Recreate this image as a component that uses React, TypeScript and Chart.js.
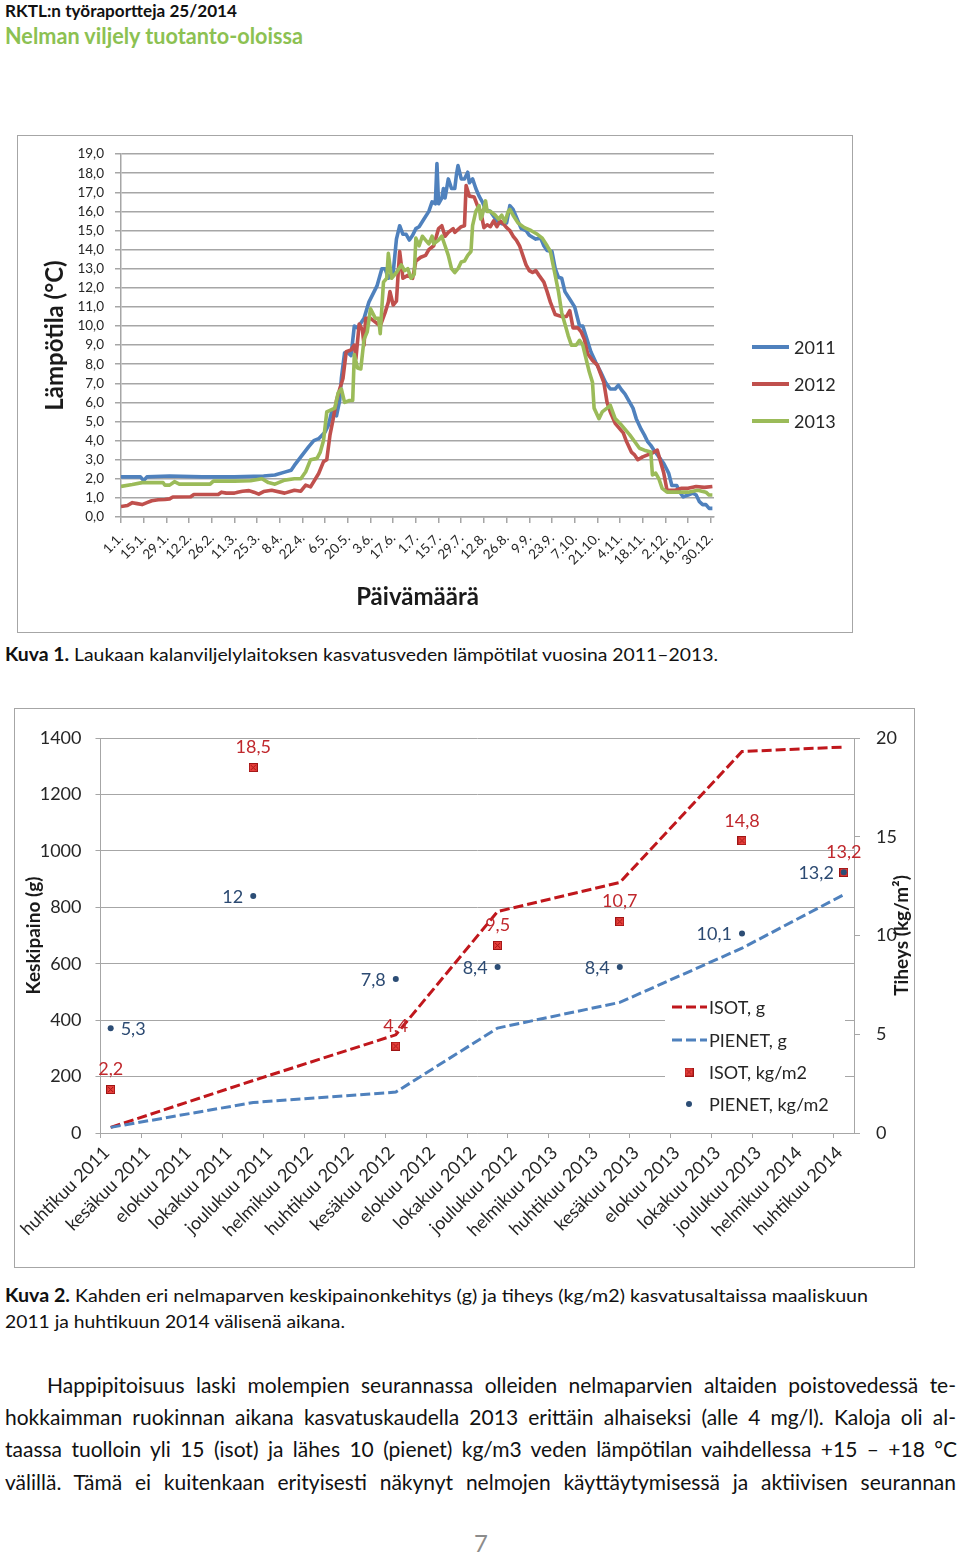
import React, { useEffect, useLayoutEffect, useRef } from 'react';
import { Chart, registerables } from 'chart.js';

Chart.register(...registerables);

const FONT = "Lato, 'Noto Sans', 'DejaVu Sans', sans-serif";

// ---------------- Chart 1: water temperature ----------------
const tickDays = [0, 14, 28, 42, 56, 70, 84, 98, 112, 126, 140, 154, 168, 182, 196, 210, 224, 238, 252, 266, 280, 294, 308, 322, 336, 350, 364];
const dateLabels = ['1.1.', '15.1.', '29.1.', '12.2.', '26.2.', '11.3.', '25.3.', '8.4.', '22.4.', '6.5.', '20.5.', '3.6.', '17.6.', '1.7.', '15.7.', '29.7.', '12.8.', '26.8.', '9.9.', '23.9.', '7.10.', '21.10.', '4.11.', '18.11.', '2.12.', '16.12.', '30.12.'];
const yearNames = ['2011', '2012', '2013'];

const days2011 = [0, 12, 14, 16, 30, 50, 70, 88, 95, 101, 105, 107, 111, 116, 119, 122, 126, 128, 130, 133, 135, 136, 138, 140, 142, 144, 146, 150, 153, 158, 161, 163, 165, 168, 170, 172, 174, 176, 178, 180, 182, 184, 187, 190, 192, 194, 195, 196, 198, 199, 200, 202, 204, 206, 207, 208, 210, 212, 214, 215, 217, 219, 221, 223, 225, 228, 232, 235, 238, 240, 242, 245, 247, 250, 252, 254, 256, 259, 261, 263, 266, 268, 270, 272, 274, 277, 280, 283, 285, 288, 290, 293, 296, 299, 302, 305, 307, 309, 311, 314, 316, 318, 321, 323, 325, 327, 329, 332, 335, 338, 340, 343, 345, 347, 350, 353, 355, 357, 359, 361, 363, 365];
const temps2011 = [2.1, 2.1, 1.9, 2.1, 2.15, 2.1, 2.1, 2.15, 2.2, 2.35, 2.45, 2.7, 3.15, 3.7, 4.0, 4.1, 4.45, 4.8, 5.5, 5.3, 6.1, 7.25, 8.6, 8.6, 8.45, 10.0, 9.9, 10.4, 11.25, 12.1, 13.0, 13.0, 12.5, 12.8, 14.55, 15.25, 14.8, 14.8, 14.5, 14.75, 15.1, 15.2, 15.6, 16.0, 16.5, 16.4, 18.5, 16.4, 16.7, 17.2, 16.7, 17.7, 17.2, 17.2, 17.9, 18.4, 17.7, 17.7, 18.05, 17.5, 17.7, 17.2, 16.8, 16.5, 16.1, 16.0, 15.5, 15.35, 15.4, 16.3, 16.1, 15.5, 15.1, 15.0, 14.75, 14.65, 14.55, 14.6, 14.2, 13.95, 13.9, 13.0, 12.55, 12.5, 11.8, 11.4, 11.0, 10.0, 10.0, 9.2, 8.65, 8.1, 7.6, 7.05, 6.7, 6.7, 6.9, 6.65, 6.45, 6.0, 5.7, 5.15, 4.6, 4.3, 3.95, 3.75, 3.5, 3.15, 2.8, 2.3, 1.65, 1.65, 1.3, 1.05, 1.15, 1.25, 1.15, 0.8, 0.65, 0.65, 0.45, 0.45];

const days2012 = [0, 4, 7, 10, 13, 16, 19, 23, 27, 30, 32, 43, 45, 60, 62, 65, 70, 72, 75, 79, 82, 85, 88, 93, 101, 107, 111, 114, 117, 122, 125, 127, 129, 131, 133, 135, 137, 139, 142, 144, 145, 147, 149, 150, 151, 154, 157, 160, 163, 165, 166, 168, 170, 171, 172, 174, 177, 180, 182, 185, 188, 190, 193, 196, 198, 200, 202, 205, 206, 210, 212, 213, 215, 218, 220, 222, 224, 226, 228, 230, 232, 234, 236, 238, 240, 242, 244, 246, 248, 250, 252, 254, 256, 258, 261, 263, 265, 268, 270, 272, 275, 277, 279, 282, 284, 286, 288, 291, 294, 296, 298, 300, 302, 305, 308, 310, 312, 315, 317, 319, 322, 325, 328, 331, 333, 335, 337, 342, 346, 350, 355, 360, 365];
const temps2012 = [0.55, 0.6, 0.75, 0.7, 0.65, 0.75, 0.85, 0.9, 0.92, 0.95, 1.05, 1.06, 1.18, 1.18, 1.3, 1.25, 1.25, 1.3, 1.35, 1.38, 1.3, 1.2, 1.33, 1.4, 1.25, 1.4, 1.35, 1.67, 1.58, 2.28, 2.9, 3.0, 4.3, 5.15, 6.1, 6.7, 7.25, 8.65, 8.75, 9.0, 8.3, 10.1, 9.8, 9.0, 10.4, 10.4, 10.2, 10.0, 10.7, 11.25, 11.8, 11.1, 11.3, 12.65, 13.9, 12.5, 12.65, 12.5, 13.4, 13.6, 13.7, 14.0, 14.2, 15.1, 15.25, 14.7, 14.9, 15.1, 14.9, 15.2, 15.25, 17.35, 16.8, 16.75, 16.3, 16.0, 15.15, 15.3, 15.2, 15.5, 15.2, 15.5, 15.35, 15.15, 15.0, 14.7, 14.5, 14.2, 13.7, 13.2, 12.9, 12.8, 12.9, 12.65, 12.3, 11.8, 11.25, 10.6, 10.55, 10.5, 10.5, 10.8, 9.9, 9.9, 9.7, 9.3, 8.55, 8.2, 7.95, 7.5, 7.05, 6.0, 5.5, 4.9, 4.6, 4.4, 3.95, 3.4, 3.25, 3.0, 3.15, 3.25, 3.35, 3.5, 2.9, 2.3, 1.4, 1.4, 1.5, 1.5, 1.6, 1.55, 1.6];

const days2013 = [0, 7, 13, 26, 27, 30, 33, 36, 55, 57, 70, 80, 87, 91, 95, 101, 107, 111, 114, 117, 121, 123, 125, 127, 132, 134, 136, 138, 141, 143, 144, 146, 148, 150, 152, 154, 157, 159, 160, 162, 164, 165, 167, 170, 173, 175, 177, 179, 181, 182, 184, 186, 188, 190, 192, 193, 196, 198, 200, 202, 204, 206, 208, 210, 212, 214, 216, 217, 219, 221, 222, 223, 225, 226, 228, 231, 233, 235, 237, 239, 240, 242, 245, 249, 253, 257, 260, 263, 265, 268, 270, 272, 274, 276, 278, 281, 283, 285, 287, 289, 291, 292, 295, 297, 300, 302, 305, 308, 311, 314, 317, 320, 323, 327, 328, 330, 332, 334, 337, 344, 350, 356, 361, 363, 365];
const temps2013 = [1.6, 1.7, 1.8, 1.8, 1.67, 1.67, 1.85, 1.72, 1.72, 1.88, 1.88, 1.9, 2.0, 1.8, 1.72, 1.93, 2.0, 2.0, 2.37, 3.0, 3.07, 3.4, 4.0, 5.5, 5.7, 6.5, 6.7, 6.0, 6.1, 6.1, 8.5, 7.8, 7.75, 9.3, 9.7, 10.9, 10.4, 10.4, 9.6, 12.3, 12.5, 13.8, 12.5, 12.8, 13.2, 12.9, 13.0, 12.5, 12.7, 14.6, 14.2, 14.7, 14.5, 14.3, 14.7, 14.3, 14.5, 14.7, 14.2, 13.7, 13.0, 12.8, 13.0, 13.35, 13.4, 13.7, 13.9, 15.25, 16.0, 16.3, 15.6, 15.8, 16.55, 16.0, 16.0, 15.8, 15.6, 15.8, 15.45, 16.0, 16.1, 15.8, 15.4, 15.15, 15.0, 14.8, 14.6, 14.2, 13.9, 12.65, 11.8, 10.7, 10.1, 9.5, 9.0, 9.0, 9.25, 9.0, 8.3, 7.6, 7.05, 5.7, 5.15, 5.5, 5.7, 5.85, 5.15, 4.9, 4.6, 4.3, 3.95, 3.6, 3.5, 3.4, 2.2, 2.3, 2.0, 1.5, 1.3, 1.3, 1.3, 1.4, 1.3, 1.15, 1.15];

const yearColors = ['#4F81BD', '#C0504D', '#9BBB59'];

// ---------------- Chart 2: weight and density ----------------
const monthTicks = [0, 2, 4, 6, 8, 10, 12, 14, 16, 18, 20, 22, 24, 26, 28, 30, 32, 34, 36];
const monthLabels = ['huhtikuu 2011', 'kesäkuu 2011', 'elokuu 2011', 'lokakuu 2011', 'joulukuu 2011', 'helmikuu 2012', 'huhtikuu 2012', 'kesäkuu 2012', 'elokuu 2012', 'lokakuu 2012', 'joulukuu 2012', 'helmikuu 2013', 'huhtikuu 2013', 'kesäkuu 2013', 'elokuu 2013', 'lokakuu 2013', 'joulukuu 2013', 'helmikuu 2014', 'huhtikuu 2014'];
const sampleMonths = [0.5, 7.5, 14.5, 19.5, 25.5, 31.5, 36.5];
const isotWeight = [20, 186, 348, 785, 888, 1352, 1368];
const pienetWeight = [20, 108, 145, 372, 463, 655, 845];
const isotDensity = [2.2, 18.5, 4.4, 9.5, 10.7, 14.8, 13.2];
const pienetDensity = [5.3, 12, 7.8, 8.4, 8.4, 10.1, 13.2];
const series2Names = ['ISOT, g', 'PIENET, g', 'ISOT, kg/m2', 'PIENET, kg/m2'];
const pienetLabelSide = ['right', 'left', 'left', 'left', 'left', 'left', 'left'];

const RED_LINE = '#C0171C';
const BLUE_LINE = '#4F81BD';
const RED_TEXT = '#C0282D';
const BLUE_TEXT = '#2C4A72';
const GRID = '#A6A6A6';
const TXT = '#262626';

const fmt = (v: number) => String(v).replace('.', ',');
const pts = (xs: number[], ys: number[]) => xs.map((x, i) => ({ x, y: ys[i] }));

function makeSquareMarker(): HTMLCanvasElement {
  const c = document.createElement('canvas');
  c.width = 9;
  c.height = 9;
  const g = c.getContext('2d')!;
  g.fillStyle = '#E8403C';
  g.fillRect(0, 0, 9, 9);
  g.strokeStyle = '#9E1414';
  g.lineWidth = 1;
  g.strokeRect(0.5, 0.5, 8, 8);
  g.beginPath();
  g.moveTo(2, 2);
  g.lineTo(7, 7);
  g.moveTo(7, 2);
  g.lineTo(2, 7);
  g.stroke();
  return c;
}

function FitLine(props: any) {
  const { left, cy, width, size, color = '#000', weight = 'normal', justify = false, children } = props;
  const ref = useRef<HTMLDivElement>(null);
  useLayoutEffect(() => {
    const el = ref.current;
    if (!el) return;
    el.style.transform = 'none';
    el.style.wordSpacing = '0px';
    const w = el.getBoundingClientRect().width;
    if (w <= 0) return;
    const text = el.textContent || '';
    const spaces = (text.match(/ /g) || []).length;
    if (justify && w < width && spaces > 0) {
      el.style.wordSpacing = `${(width - w) / spaces}px`;
    } else {
      el.style.transform = `scaleX(${width / w})`;
    }
  });
  const lh = Math.round(size * 1.25);
  return (
    <div
      ref={ref}
      style={{
        position: 'absolute',
        left,
        top: cy - lh / 2,
        fontSize: size,
        lineHeight: `${lh}px`,
        whiteSpace: 'nowrap',
        transformOrigin: '0 50%',
        color,
        fontFamily: FONT,
        fontWeight: weight,
      }}
    >
      {children}
    </div>
  );
}

export default function App() {
  const c1 = useRef<HTMLCanvasElement>(null);
  const c2 = useRef<HTMLCanvasElement>(null);

  useEffect(() => {
    Chart.defaults.font.family = FONT;
    Chart.defaults.color = TXT;

    const legend1 = {
      id: 'legend1',
      afterDraw(chart: any) {
        const ctx = chart.ctx;
        ctx.save();
        yearNames.forEach((name, i) => {
          const y = 212 + i * 37;
          ctx.strokeStyle = yearColors[i];
          ctx.lineWidth = 4;
          ctx.beginPath();
          ctx.moveTo(735, y);
          ctx.lineTo(772, y);
          ctx.stroke();
          ctx.fillStyle = TXT;
          ctx.font = `18px ${FONT}`;
          ctx.textAlign = 'left';
          ctx.textBaseline = 'middle';
          ctx.fillText(name, 777, y + 1);
        });
        ctx.restore();
      },
    };

    const chart1 = new Chart(c1.current!, {
      type: 'line',
      data: {
        datasets: [
          { label: yearNames[0], data: pts(days2011, temps2011), borderColor: yearColors[0], order: 3 },
          { label: yearNames[1], data: pts(days2012, temps2012), borderColor: yearColors[1], order: 2 },
          { label: yearNames[2], data: pts(days2013, temps2013), borderColor: yearColors[2], order: 1 },
        ],
      },
      options: {
        animation: false,
        responsive: false,
        maintainAspectRatio: false,
        layout: { padding: { top: 18, right: 139, left: 0, bottom: 0 } },
        elements: { point: { radius: 0 }, line: { borderWidth: 3.6, tension: 0, borderJoinStyle: 'round' } },
        plugins: { legend: { display: false }, tooltip: { enabled: false } },
        scales: {
          x: {
            type: 'linear',
            min: 0,
            max: 366,
            afterFit: (s: any) => { s.height = 116; },
            afterBuildTicks: (s: any) => { s.ticks = tickDays.map((v) => ({ value: v })); },
            grid: { drawOnChartArea: false, drawTicks: true, tickLength: 6, color: GRID, lineWidth: 1.5 },
            border: { color: GRID, width: 1.5 },
            ticks: {
              autoSkip: false,
              minRotation: 45,
              maxRotation: 45,
              padding: 7,
              color: TXT,
              font: { size: 13.5 },
              callback: (v: any) => dateLabels[tickDays.indexOf(Number(v))] ?? '',
            },
            title: { display: true, text: 'Päivämäärä', color: '#1A1A1A', font: { size: 24, weight: 'bold' }, padding: { top: 0, bottom: 21 } },
          },
          y: {
            min: 0,
            max: 19,
            afterFit: (s: any) => { s.width = 104; },
            grid: { color: GRID, lineWidth: 1.5, tickLength: 6 },
            border: { color: GRID, width: 1.5 },
            ticks: { stepSize: 1, autoSkip: false, padding: 11, color: TXT, font: { size: 13.5 }, callback: (v: any) => Number(v).toFixed(1).replace('.', ',') },
            title: { display: true, text: 'Lämpötila (°C)', color: '#1A1A1A', font: { size: 24, weight: 'bold' }, padding: { top: 24, bottom: 0 } },
          },
        },
      } as any,
      plugins: [legend1],
    });

    const marker = makeSquareMarker();

    const extras2 = {
      id: 'extras2',
      beforeDatasetsDraw(chart: any) {
        const ctx = chart.ctx;
        ctx.save();
        ctx.fillStyle = '#FFFFFF';
        ctx.fillRect(651, 283, 180, 129);
        const ys = [299, 332, 364, 396];
        ctx.font = `18px ${FONT}`;
        ctx.textBaseline = 'middle';
        ctx.textAlign = 'left';
        [RED_LINE, BLUE_LINE].forEach((col, i) => {
          ctx.strokeStyle = col;
          ctx.lineWidth = 3;
          ctx.setLineDash([10, 4]);
          ctx.beginPath();
          ctx.moveTo(658, ys[i]);
          ctx.lineTo(693, ys[i]);
          ctx.stroke();
        });
        ctx.setLineDash([]);
        ctx.drawImage(marker, 675 - 4.5, ys[2] - 4.5);
        ctx.fillStyle = '#2C4D75';
        ctx.beginPath();
        ctx.arc(675, ys[3], 3, 0, Math.PI * 2);
        ctx.fill();
        ctx.fillStyle = TXT;
        series2Names.forEach((n, i) => ctx.fillText(n, 695, ys[i] + 1));
        ctx.restore();
      },
      afterDatasetsDraw(chart: any) {
        const ctx = chart.ctx;
        ctx.save();
        ctx.font = `18px ${FONT}`;
        ctx.textBaseline = 'middle';
        const mI = chart.getDatasetMeta(2);
        const mP = chart.getDatasetMeta(3);
        isotDensity.forEach((v, i) => {
          const p = mI.data[i];
          ctx.fillStyle = RED_TEXT;
          ctx.textAlign = 'center';
          ctx.fillText(fmt(v), p.x, p.y - 20);
        });
        pienetDensity.forEach((v, i) => {
          const p = mP.data[i];
          ctx.fillStyle = BLUE_TEXT;
          const right = pienetLabelSide[i] === 'right';
          ctx.textAlign = right ? 'left' : 'right';
          ctx.fillText(fmt(v), right ? p.x + 10 : p.x - 10, p.y + 1);
        });
        ctx.restore();
      },
      afterDraw(chart: any) {
        const ctx = chart.ctx;
        const ca = chart.chartArea;
        ctx.save();
        ctx.translate(888, (ca.top + ca.bottom) / 2);
        ctx.rotate(-Math.PI / 2);
        ctx.font = `bold 19px ${FONT}`;
        ctx.fillStyle = '#1A1A1A';
        ctx.textAlign = 'center';
        ctx.textBaseline = 'middle';
        ctx.fillText('Tiheys (kg/m²)', 0, 0);
        ctx.restore();
      },
    };

    const chart2 = new Chart(c2.current!, {
      type: 'line',
      data: {
        datasets: [
          { label: series2Names[0], data: pts(sampleMonths, isotWeight), yAxisID: 'y', borderColor: RED_LINE, borderDash: [10, 4], borderWidth: 3, pointRadius: 0, order: 4 },
          { label: series2Names[1], data: pts(sampleMonths, pienetWeight), yAxisID: 'y', borderColor: BLUE_LINE, borderDash: [10, 4], borderWidth: 3, pointRadius: 0, order: 3 },
          { label: series2Names[2], data: pts(sampleMonths, isotDensity), yAxisID: 'y1', showLine: false, pointStyle: marker, pointRadius: 5, order: 2 },
          { label: series2Names[3], data: pts(sampleMonths, pienetDensity), yAxisID: 'y1', showLine: false, pointStyle: 'circle', pointRadius: 3, pointBackgroundColor: '#2C4D75', pointBorderColor: '#2C4D75', pointBorderWidth: 0, order: 1 },
        ],
      },
      options: {
        animation: false,
        responsive: false,
        maintainAspectRatio: false,
        layout: { padding: { top: 30, right: 0, left: 0, bottom: 0 } },
        elements: { line: { tension: 0 } },
        plugins: { legend: { display: false }, tooltip: { enabled: false } },
        scales: {
          x: {
            type: 'linear',
            min: 0,
            max: 37,
            afterFit: (s: any) => { s.height = 135; },
            afterBuildTicks: (s: any) => { s.ticks = monthTicks.map((v) => ({ value: v })); },
            grid: { drawOnChartArea: false, drawTicks: true, tickLength: 5, color: GRID, lineWidth: 1 },
            border: { color: GRID, width: 1 },
            ticks: {
              autoSkip: false,
              minRotation: 45,
              maxRotation: 45,
              padding: 4,
              labelOffset: 6,
              color: TXT,
              font: { size: 18 },
              callback: (v: any) => monthLabels[monthTicks.indexOf(Number(v))] ?? '',
            },
          },
          y: {
            position: 'left',
            min: 0,
            max: 1400,
            afterFit: (s: any) => { s.width = 84; },
            grid: { color: GRID, lineWidth: 1, tickLength: 5 },
            border: { color: GRID, width: 1 },
            ticks: { stepSize: 200, autoSkip: false, padding: 14, color: TXT, font: { size: 18 }, callback: (v: any) => String(v) },
            title: { display: true, text: 'Keskipaino (g)', color: '#1A1A1A', font: { size: 19, weight: 'bold' }, padding: { top: 6, bottom: 0 } },
          },
          y1: {
            position: 'right',
            min: 0,
            max: 20,
            afterFit: (s: any) => { s.width = 61; },
            grid: { drawOnChartArea: false, drawTicks: true, tickLength: 6, color: GRID, lineWidth: 1 },
            border: { color: GRID, width: 1 },
            ticks: { stepSize: 5, autoSkip: false, padding: 16, color: TXT, font: { size: 18 }, callback: (v: any) => String(v) },
          },
        },
      } as any,
      plugins: [extras2],
    });

    return () => {
      chart1.destroy();
      chart2.destroy();
    };
  }, []);

  return (
    <div style={{ position: 'absolute', left: 0, top: 0, width: 960, height: 1556, background: '#FFFFFF', overflow: 'hidden', fontFamily: FONT }}>
      <FitLine left={5} cy={11} width={232} size={17.5} weight="bold" color="#111111">RKTL:n työraportteja 25/2014</FitLine>
      <FitLine left={5} cy={36} width={298} size={22} weight="bold" color="#8CC152">Nelman viljely tuotanto-oloissa</FitLine>

      <canvas ref={c1} width={836} height={498} style={{ position: 'absolute', left: 17, top: 135, width: 836, height: 498 }} />
      <div style={{ position: 'absolute', left: 17, top: 135, width: 836, height: 498, border: '1.5px solid #A6A6A6', boxSizing: 'border-box', pointerEvents: 'none' }} />

      <FitLine left={5} cy={654} width={713} size={18} color="#111111">
        <b>Kuva 1.</b> Laukaan kalanviljelylaitoksen kasvatusveden lämpötilat vuosina 2011–2013.
      </FitLine>

      <canvas ref={c2} width={901} height={560} style={{ position: 'absolute', left: 14, top: 708, width: 901, height: 560 }} />
      <div style={{ position: 'absolute', left: 14, top: 708, width: 901, height: 560, border: '1.5px solid #A6A6A6', boxSizing: 'border-box', pointerEvents: 'none' }} />

      <FitLine left={5} cy={1295} width={863} size={18} color="#111111">
        <b>Kuva 2.</b> Kahden eri nelmaparven keskipainonkehitys (g) ja tiheys (kg/m2) kasvatusaltaissa maaliskuun
      </FitLine>
      <FitLine left={5} cy={1321} width={340} size={18} color="#111111">2011 ja huhtikuun 2014 välisenä aikana.</FitLine>

      <FitLine left={47} cy={1385} width={909} size={21} justify color="#111111">Happipitoisuus laski molempien seurannassa olleiden nelmaparvien altaiden poistovedessä te-</FitLine>
      <FitLine left={5} cy={1417} width={951} size={21} justify color="#111111">hokkaimman ruokinnan aikana kasvatuskaudella 2013 erittäin alhaiseksi (alle 4 mg/l). Kaloja oli al-</FitLine>
      <FitLine left={5} cy={1449} width={952} size={21} justify color="#111111">taassa tuolloin yli 15 (isot) ja lähes 10 (pienet) kg/m3 veden lämpötilan vaihdellessa +15 – +18 °C</FitLine>
      <FitLine left={5} cy={1482} width={951} size={21} justify color="#111111">välillä. Tämä ei kuitenkaan erityisesti näkynyt nelmojen käyttäytymisessä ja aktiivisen seurannan</FitLine>

      <div style={{ position: 'absolute', left: 461, width: 40, top: 1528, textAlign: 'center', fontSize: 24, lineHeight: '30px', color: '#8C8C8C', fontFamily: FONT }}>7</div>
    </div>
  );
}
